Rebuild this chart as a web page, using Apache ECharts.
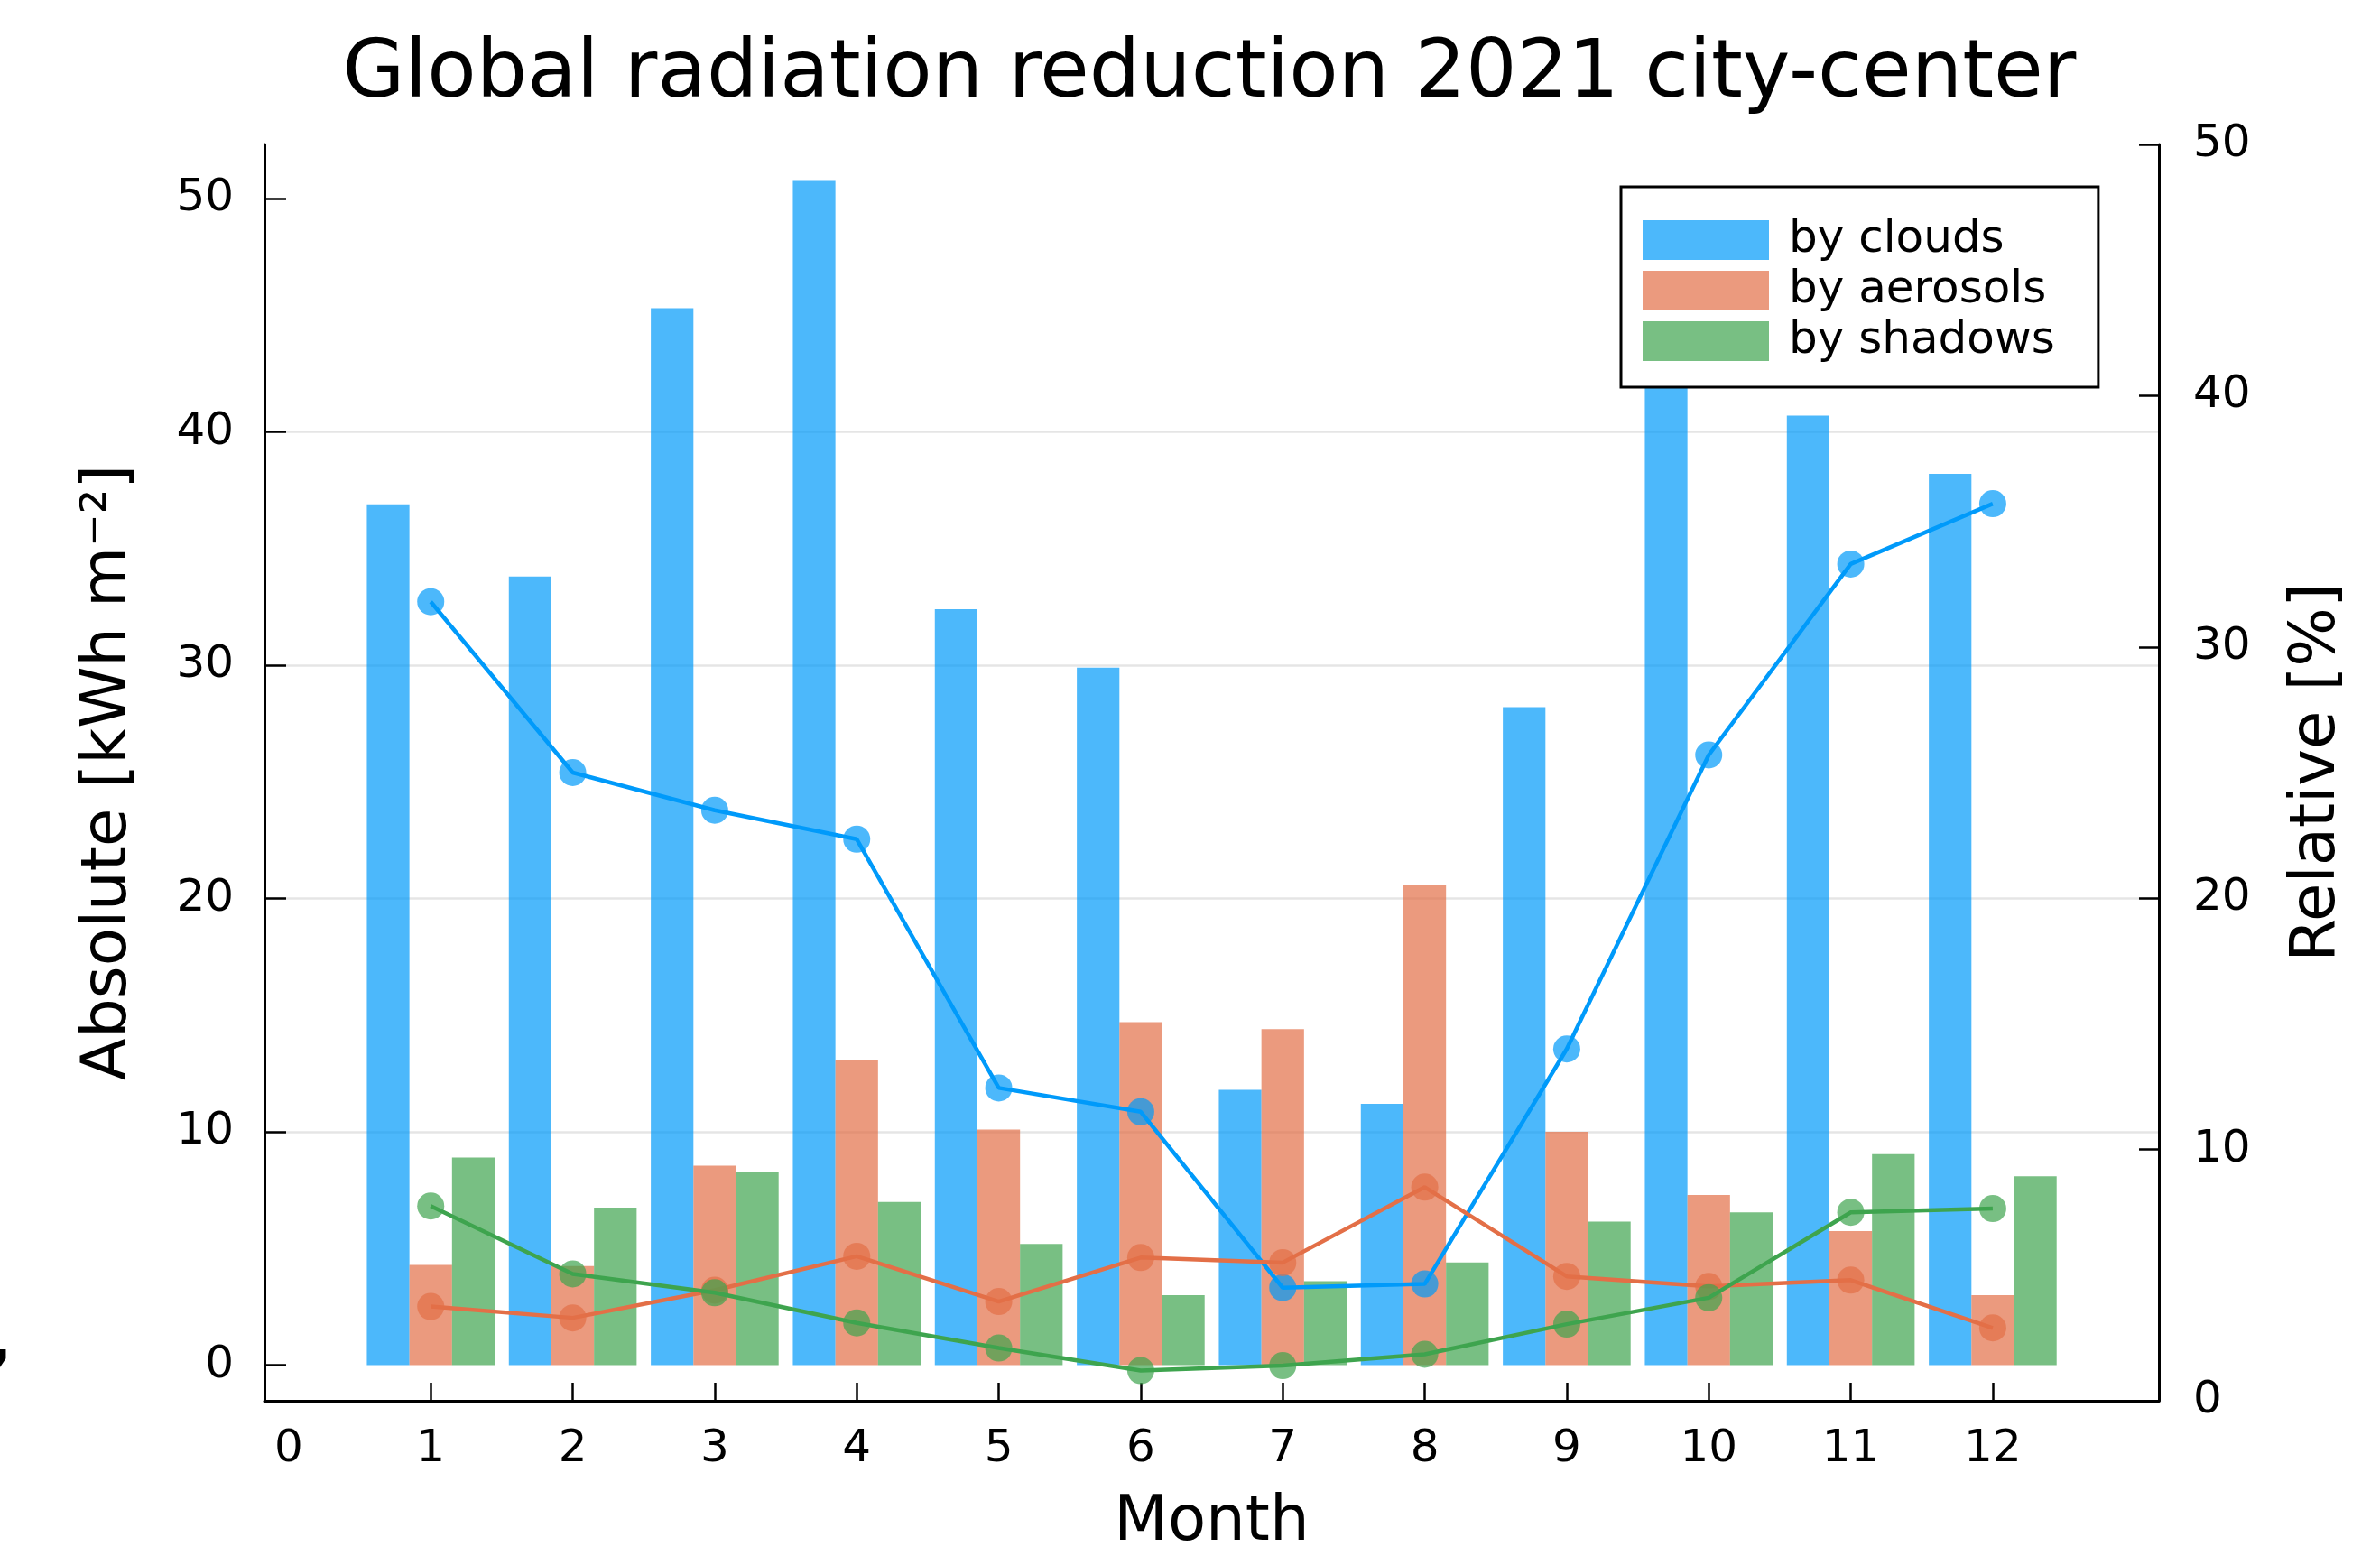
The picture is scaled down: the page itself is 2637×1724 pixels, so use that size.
<!DOCTYPE html>
<html>
<head>
<meta charset="utf-8">
<script src="https://cdn.jsdelivr.net/npm/echarts@6/dist/echarts.min.js"></script>
<style>
html,body{margin:0;padding:0;background:#ffffff;}
#chart{width:2637px;height:1724px;}
</style>
</head>
<body>
<div id="chart"></div>
<script>
// ---- data ----
const months = [1, 2, 3, 4, 5, 6, 7, 8, 9, 10, 11, 12];
const xTickLabels = [0, 1, 2, 3, 4, 5, 6, 7, 8, 9, 10, 11, 12];
const xTickMarks = [1, 2, 3, 4, 5, 6, 7, 8, 9, 10, 11, 12];
const leftTicks = [0, 10, 20, 30, 40, 50];
const rightTicks = [0, 10, 20, 30, 40, 50];

const seriesNames = ['by clouds', 'by aerosols', 'by shadows'];

// absolute reduction [kWh m^-2] (bars, left axis)
const cloudsAbs   = [36.9, 33.8, 45.3, 50.8, 32.4, 29.9, 11.8, 11.2, 28.2, 43.0, 40.7, 38.2];
const aerosolsAbs = [4.3, 4.25, 8.55, 13.1, 10.1, 14.7, 14.4, 20.6, 10.0, 7.3, 5.75, 3.0];
const shadowsAbs  = [8.9, 6.75, 8.3, 7.0, 5.2, 3.0, 3.6, 4.4, 6.15, 6.55, 9.05, 8.1];

// relative reduction [%] (lines, right axis)
const cloudsRel   = [31.8, 25.0, 23.5, 22.35, 12.45, 11.5, 4.5, 4.65, 14.0, 25.7, 33.3, 35.7];
const aerosolsRel = [3.75, 3.3, 4.4, 5.75, 3.95, 5.7, 5.5, 8.5, 4.95, 4.55, 4.8, 2.9];
const shadowsRel  = [7.75, 5.05, 4.3, 3.1, 2.1, 1.2, 1.4, 1.85, 3.05, 4.1, 7.5, 7.65];

// ---- styling ----
const FONT = 'DejaVu Sans';
const lineColors = ['#009AFA', '#E36F47', '#3EA44E'];
const barColors = ['rgba(0,154,250,0.7)', 'rgba(227,111,71,0.7)', 'rgba(62,164,78,0.7)'];

const absData = [cloudsAbs, aerosolsAbs, shadowsAbs];
const relData = [cloudsRel, aerosolsRel, shadowsRel];

const pairs = (arr) => months.map((m, i) => [m, arr[i]]);

const series = [];
absData.forEach((arr, k) => {
  series.push({
    name: seriesNames[k],
    type: 'bar',
    xAxisIndex: 0,
    yAxisIndex: 0,
    data: pairs(arr),
    barWidth: '30%',
    barGap: '0%',
    itemStyle: { color: barColors[k] },
    emphasis: { disabled: true },
    z: 2
  });
});
relData.forEach((arr, k) => {
  series.push({
    name: seriesNames[k] + ' (relative)',
    type: 'line',
    xAxisIndex: 0,
    yAxisIndex: 1,
    data: pairs(arr),
    symbol: 'circle',
    symbolSize: 30,
    lineStyle: { color: lineColors[k], width: 4.5 },
    itemStyle: { color: lineColors[k], opacity: 0.7 },
    emphasis: { disabled: true },
    z: 3 + k
  });
});

const axisLineStyle = { color: '#000000', width: 3 };

const option = {
  animation: false,
  backgroundColor: '#ffffff',
  textStyle: { fontFamily: FONT, color: '#000000' },
  title: {
    text: 'Global radiation reduction 2021 city-center',
    left: 1340,
    top: 34,
    textAlign: 'center',
    padding: [5, 0, 5, 0],
    textStyle: { fontFamily: FONT, fontSize: 89, fontWeight: 'normal', color: '#000000' }
  },
  legend: {
    data: seriesNames,
    orient: 'vertical',
    left: 1796,
    top: 207,
    padding: [34, 48, 26, 24],
    itemWidth: 140,
    itemHeight: 44,
    itemGap: 6,
    icon: 'rect',
    backgroundColor: '#ffffff',
    borderColor: '#000000',
    borderWidth: 3,
    borderRadius: 0,
    selectedMode: false,
    textStyle: { fontFamily: FONT, fontSize: 50, color: '#000000', lineHeight: 44, padding: [0, 0, 0, 17] }
  },
  graphic: [{
    type: 'text',
    style: { text: ',', x: -13, y: 1455, font: 'bold 70px "DejaVu Sans"', fill: '#000000', textBaseline: 'alphabetic' },
    silent: true
  }],
  grid: {
    left: 293, right: 245, top: 160, bottom: 172,
    containLabel: false,
    outerBoundsMode: 'none'
  },
  xAxis: [{
    type: 'value',
    min: -0.171,
    max: 13.17,
    name: 'Month',
    nameLocation: 'middle',
    nameGap: 102,
    nameTextStyle: { fontFamily: FONT, fontSize: 69, color: '#000000' },
    axisLine: { show: true, onZero: false, lineStyle: axisLineStyle },
    axisTick: { show: true, inside: true, length: 20, customValues: xTickMarks, lineStyle: { color: '#000000', width: 2.5 } },
    axisLabel: { show: true, customValues: xTickLabels, fontFamily: FONT, fontSize: 50, color: '#000000', margin: 29 },
    splitLine: { show: false }
  }],
  yAxis: [{
    type: 'value',
    position: 'left',
    min: -1.524,
    max: 52.324,
    name: 'Absolute [kWh m⁻²]',
    nameLocation: 'middle',
    nameRotate: 90,
    nameGap: 137,
    nameTextStyle: { fontFamily: FONT, fontSize: 69, color: '#000000' },
    axisLine: { show: true, onZero: false, lineStyle: axisLineStyle },
    axisTick: { show: true, inside: true, length: 24, customValues: leftTicks, lineStyle: { color: '#000000', width: 2.5 } },
    axisLabel: { show: true, customValues: leftTicks, fontFamily: FONT, fontSize: 50, color: '#000000', margin: 34 },
    splitLine: { show: true, showMinLine: false, showMaxLine: false, lineStyle: { color: 'rgba(0,0,0,0.1)', width: 2.5 } }
  }, {
    type: 'value',
    position: 'right',
    min: 0,
    max: 50,
    interval: 10,
    name: 'Relative [%]',
    nameLocation: 'middle',
    nameRotate: 90,
    nameGap: 142,
    nameTextStyle: { fontFamily: FONT, fontSize: 69, color: '#000000' },
    axisLine: { show: true, onZero: false, lineStyle: axisLineStyle },
    axisTick: { show: true, inside: true, length: 22, customValues: rightTicks, lineStyle: { color: '#000000', width: 2.5 } },
    axisLabel: { show: true, customValues: rightTicks, fontFamily: FONT, fontSize: 50, color: '#000000', margin: 38 },
    splitLine: { show: false }
  }],
  series: series
};

const chart = echarts.init(document.getElementById('chart'), null, { renderer: 'canvas', width: 2637, height: 1724 });
chart.setOption(option);
</script>
</body>
</html>
